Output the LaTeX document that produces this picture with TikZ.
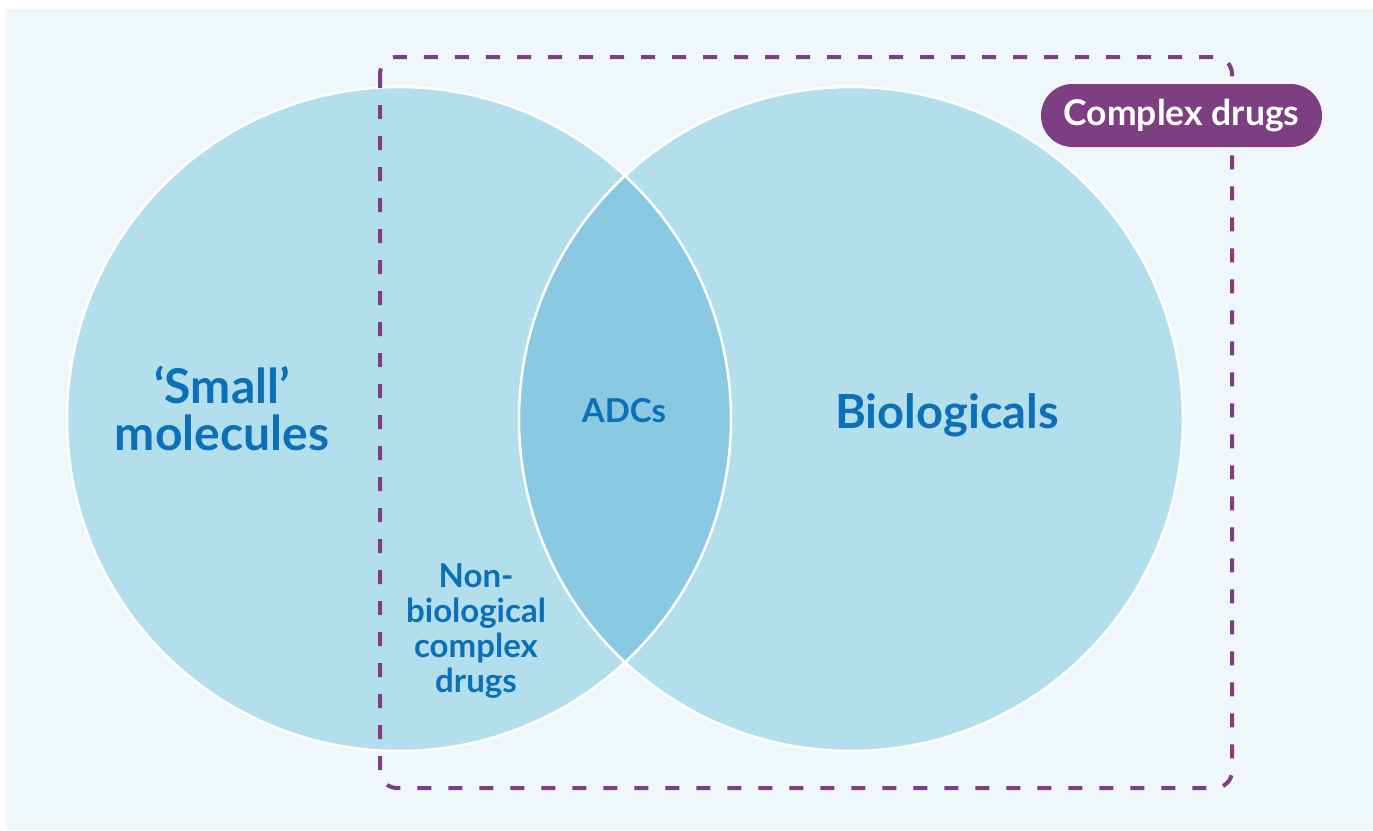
\documentclass[tikz,border=0pt]{standalone}
\usepackage{fontspec}
\setmainfont{Lato}
\definecolor{bgc}{HTML}{EFF7FA}
\definecolor{circ}{HTML}{B3DFEC}
\definecolor{lens}{HTML}{89C9E1}
\definecolor{purp}{HTML}{7E3F82}
\definecolor{txtb}{HTML}{0B70B8}
\tikzset{
  lbl/.style={text=txtb, font=\bfseries, inner sep=0pt, align=center},
  boxline/.style={draw=purp, line width=4pt, dash pattern=on 14pt off 17pt, rounded corners=17pt},
  pill/.style={fill=purp, text=white, font=\bfseries\fontsize{35.5}{40}\selectfont, rounded corners=31.5pt, minimum width=281pt, minimum height=63pt, inner sep=0pt},
  outline/.style={draw=white, line width=2.5pt}
}
\begin{document}
\begin{tikzpicture}[x=1pt,y=-1pt]
\useasboundingbox (0,0) rectangle (1373,830);
\fill[bgc] (6,9) rectangle (1373,830);
\coordinate (L) at (399,419);
\coordinate (R) at (851,419);
\fill[circ] (L) circle[radius=332];
\fill[circ] (R) circle[radius=332];
\begin{scope}
\clip (L) circle[radius=332];
\fill[lens] (R) circle[radius=332];
\end{scope}
\draw[outline] (L) circle[radius=332];
\draw[outline] (R) circle[radius=332];
\draw[boxline] (380,57) rectangle (1232,788);
\node[pill] (cd) at (1181.5,115.5) {Complex drugs};
\node[lbl, font=\bfseries\fontsize{48}{47}\selectfont, anchor=base] (sm) at (222,450) {‘Small’\\molecules};
\node[lbl, font=\bfseries\fontsize{33}{38}\selectfont, anchor=base] (adc) at (624,422) {ADCs};
\node[lbl, font=\bfseries\fontsize{47}{55}\selectfont, anchor=base] (bio) at (947,428) {Biologicals};
\node[lbl, font=\bfseries\fontsize{33}{35}\selectfont, anchor=base] (nbc) at (476,692) {Non-\\biological\\complex\\drugs};
\end{tikzpicture}
\end{document}
